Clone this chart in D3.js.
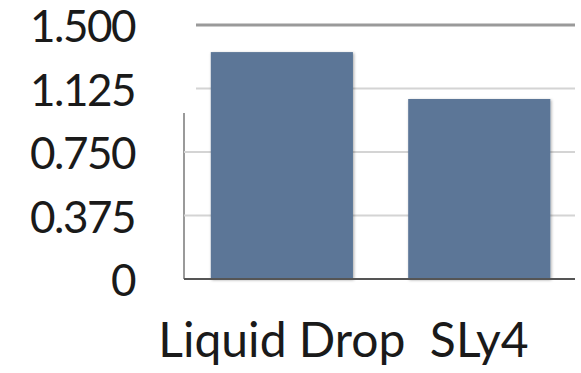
<!DOCTYPE html>
<html>
<head>
<meta charset="utf-8">
<script src="https://cdn.jsdelivr.net/npm/d3@7"></script>
<style>
  body { margin: 0; background: #fff; }
  text { font-family: Lato, "Open Sans", sans-serif; fill: #1a1a1a; }
</style>
</head>
<body>
<div id="chart"></div>
<script>
// data
var categories = ["Liquid Drop", "SLy4"];
var values = [1.34, 1.063];
var tickValues = [0, 0.375, 0.75, 1.125, 1.5];
var tickLabels = ["0", "0.375", "0.750", "1.125", "1.500"];

var width = 581, height = 373;
var margin = { top: 25, right: 6, bottom: 94, left: 196 };

var svg = d3.select("#chart")
    .append("svg")
    .attr("width", width)
    .attr("height", height);

var defs = svg.append("defs");
var shadow = defs.append("filter").attr("id", "shadow")
    .attr("x", "-10%").attr("y", "-10%").attr("width", "120%").attr("height", "120%");
shadow.append("feDropShadow")
    .attr("dx", 1).attr("dy", 1).attr("stdDeviation", 1.5)
    .attr("flood-color", "#000").attr("flood-opacity", 0.35);

var y = d3.scaleLinear()
    .domain([0, 1.5])
    .range([height - margin.bottom, margin.top]);

var x = d3.scaleBand()
    .domain(categories)
    .range([margin.left, width - margin.right])
    .paddingInner(0.28)
    .paddingOuter(0.1)
    .align(0.375);

// gridlines
svg.append("g")
    .selectAll("line")
    .data(tickValues.filter(function(d) { return d > 0; }))
    .enter()
    .append("line")
    .attr("x1", margin.left)
    .attr("x2", width - margin.right)
    .attr("y1", function(d) { return y(d); })
    .attr("y2", function(d) { return y(d); })
    .style("stroke", function(d) { return d === 1.5 ? "#9a9a9a" : "#d4d4d4"; })
    .style("stroke-width", function(d) { return d === 1.5 ? 3 : 2; });

// partial left axis line + small ticks
var axisTop = 113;
svg.append("line")
    .attr("x1", 184).attr("x2", 184)
    .attr("y1", axisTop).attr("y2", y(0))
    .style("stroke", "#9a9a9a").style("stroke-width", 2);
svg.append("g")
    .selectAll("line")
    .data(tickValues.filter(function(d) { return d > 0 && y(d) > axisTop; }))
    .enter()
    .append("line")
    .attr("x1", 184).attr("x2", margin.left)
    .attr("y1", function(d) { return y(d); })
    .attr("y2", function(d) { return y(d); })
    .style("stroke", "#d4d4d4").style("stroke-width", 2);

// bars
svg.append("g")
    .selectAll("rect")
    .data(values)
    .enter()
    .append("rect")
    .attr("x", function(d, i) { return x(categories[i]); })
    .attr("y", function(d) { return y(d); })
    .attr("width", x.bandwidth())
    .attr("height", function(d) { return y(0) - y(d); })
    .style("fill", "#5b7697")
    .attr("filter", "url(#shadow)");

// baseline
svg.append("line")
    .attr("x1", 184).attr("x2", width - margin.right)
    .attr("y1", y(0)).attr("y2", y(0))
    .style("stroke", "#555").style("stroke-width", 2);

// y tick labels
svg.append("g")
    .selectAll("text")
    .data(tickValues)
    .enter()
    .append("text")
    .attr("x", 135)
    .attr("y", function(d) { return y(d) + 2; })
    .attr("dy", "0.35em")
    .attr("text-anchor", "end")
    .style("font-size", "44px")
    .style("letter-spacing", "-1.5px")
    .text(function(d, i) { return tickLabels[i]; });

// x labels
svg.append("g")
    .selectAll("text")
    .data(categories)
    .enter()
    .append("text")
    .attr("x", function(d) { return x(d) + x.bandwidth() / 2; })
    .attr("y", 357)
    .attr("text-anchor", "middle")
    .style("font-size", "48px")
    .text(function(d) { return d; });
</script>
</body>
</html>
